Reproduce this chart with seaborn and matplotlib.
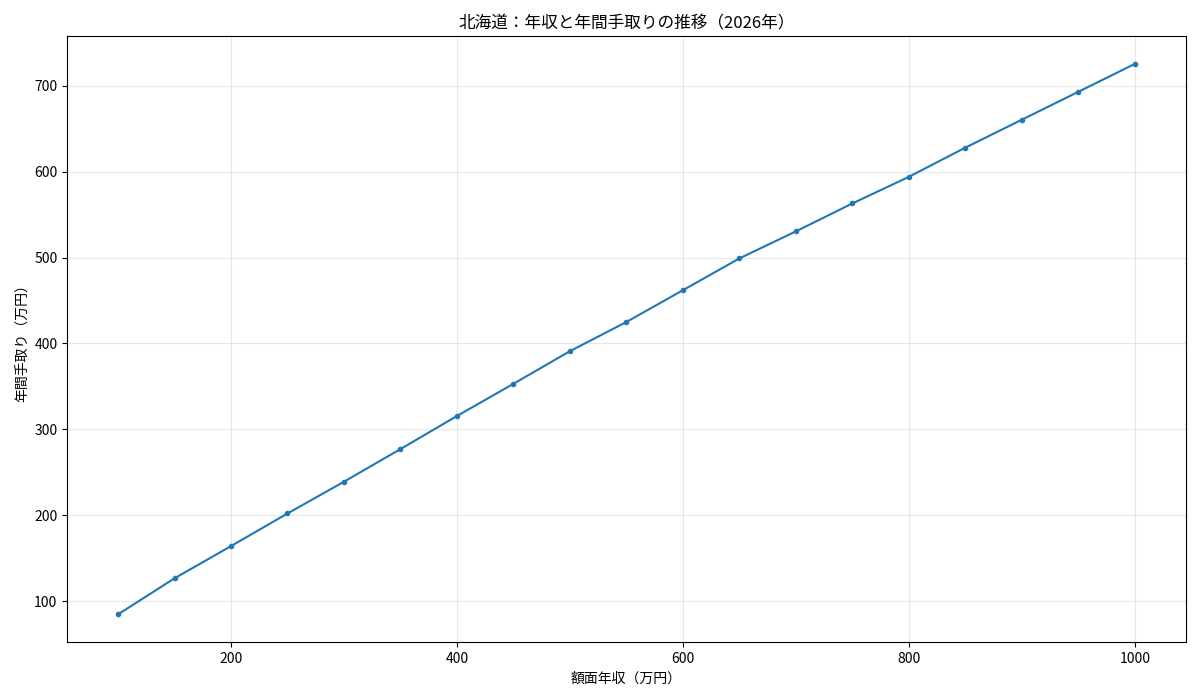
import numpy as np
import pandas as pd
import seaborn as sns
from matplotlib import pyplot as plt

# Data
income = [100, 150, 200, 250, 300, 350, 400, 450, 500, 550,
          600, 650, 700, 750, 800, 850, 900, 950, 1000]
takehome = [84.5, 126.5, 164, 202, 239, 277, 315.5, 353, 391, 425,
            462, 499, 530.5, 563, 594, 628, 660.5, 693, 725.5]

TITLE = "北海道：年収と年間手取りの推移（2026年）"
XLABEL = "額面年収（万円）"
YLABEL = "年間手取り（万円）"

# plain matplotlib look (black text, default grid colour)
plt.rcParams['font.family'] = ['Noto Sans CJK JP', 'DejaVu Sans']

df = pd.DataFrame({"income": income, "takehome": takehome})

fig, ax = plt.subplots(figsize=(12, 7), dpi=100)
sns.lineplot(data=df, x="income", y="takehome", marker="o", markersize=4,
             markeredgewidth=0, color="#1f77b4", linewidth=1.5, ax=ax)

ax.set_title(TITLE, fontsize=12)
ax.set_xlabel(XLABEL, fontsize=10)
ax.set_ylabel(YLABEL, fontsize=10)
ax.grid(True, alpha=0.3)
ax.set_xticks([200, 400, 600, 800, 1000])

fig.subplots_adjust(left=0.056, right=0.988, top=0.948, bottom=0.083)
fig.savefig("out.png", dpi=100)
